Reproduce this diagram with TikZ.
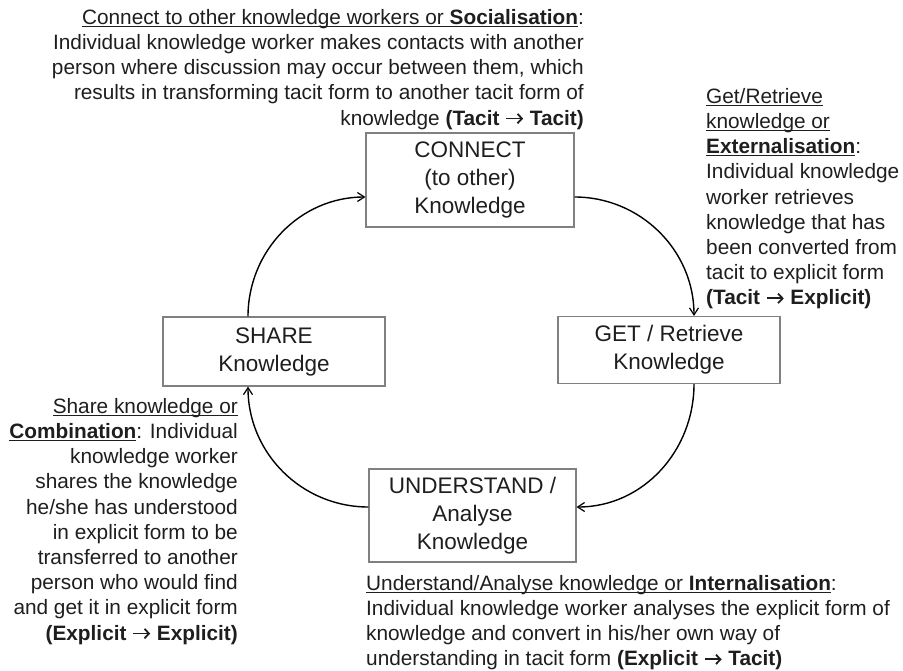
\documentclass[tikz,border=0pt]{standalone}
\usepackage{fontspec}
\setmainfont{Liberation Sans}
\usetikzlibrary{arrows.meta}
\definecolor{ink}{HTML}{1E1E1E}
\definecolor{frame}{HTML}{808080}
% underline at a fixed depth below the baseline
\newcommand{\und}[1]{\leavevmode\setbox0=\hbox{#1}\rlap{\color{ink}\rule[-2.6pt]{\wd0}{1pt}}\copy0}
% conversion arrow between the two forms of knowledge
\newcommand{\conv}{\tikz[baseline=-6.5pt]\draw[ink, line width=1.8pt,
  -{Straight Barb[length=4.5pt,width=9.5pt,line width=1.8pt]}] (0pt,0pt) -- (17pt,0pt);}
\tikzset{
  stage/.style={draw=frame, line width=1.1pt, align=center, inner sep=0pt,
    font=\fontsize{22.5}{28}\selectfont, text=ink},
  note/.style={inner sep=0pt, font=\fontsize{20.8}{25.2}\selectfont, text=ink},
  flow/.style={-{Straight Barb[length=7pt,width=9pt,line width=1.2pt]}, line width=1.4pt, black}
}
\begin{document}
\begin{tikzpicture}[x=1pt,y=-1pt]
\useasboundingbox (0,0) rectangle (903,670);

% the four stages of the cycle
\node[stage, minimum width=208pt, minimum height=94pt] (connect) at (470,180)
  {CONNECT\\(to other)\\Knowledge};
\node[stage, minimum width=222pt, minimum height=67pt] (get) at (669,350)
  {GET / Retrieve\\Knowledge};
\node[stage, minimum width=207pt, minimum height=93pt] (understand) at (472.5,515.5)
  {UNDERSTAND /\\Analyse\\Knowledge};
\node[stage, minimum width=222pt, minimum height=69pt] (share) at (274,351.5)
  {SHARE\\Knowledge};

% connectors round the cycle
\draw[flow] ([yshift=-17pt]connect.east) to[out=0,in=90] ([xshift=25pt]get.north);
\draw[flow] ([xshift=25pt]get.south) to[out=-90,in=0] ([yshift=8.5pt]understand.east);
\draw[flow] ([yshift=8.5pt]understand.west) to[out=180,in=-90] ([xshift=-26pt]share.south);
\draw[flow] ([xshift=-26pt]share.north) to[out=90,in=180] ([yshift=-17pt]connect.west);

% explanations of each conversion
\node[note, align=right, anchor=north east] (socialisation) at (584,9)
  {\und{Connect to other knowledge workers or \textbf{Socialisation}}:\\
   Individual knowledge worker makes contacts with another\\
   person where discussion may occur between them, which\\
   results in transforming tacit form to another tacit form of\\
   knowledge \textbf{(Tacit \conv{} Tacit)}};

\node[note, align=left, anchor=north west] (externalisation) at (706,88)
  {\und{Get/Retrieve}\\
   \und{knowledge or}\\
   \und{\textbf{Externalisation}}:\\
   Individual knowledge\\
   worker retrieves\\
   knowledge that has\\
   been converted from\\
   tacit to explicit form\\
   \textbf{(Tacit \conv{} Explicit)}};

\node[note, align=right, anchor=north east] (combination) at (238,398)
  {\und{Share knowledge or}\\
   \und{\textbf{Combination}}: Individual\\
   knowledge worker\\
   shares the knowledge\\
   he/she has understood\\
   in explicit form to be\\
   transferred to another\\
   person who would find\\
   and get it in explicit form\\
   \textbf{(Explicit \conv{} Explicit)}};

\node[note, align=left, anchor=north west] (internalisation) at (366,575)
  {\und{Understand/Analyse knowledge or \textbf{Internalisation}}:\\
   Individual knowledge worker analyses the explicit form of\\
   knowledge and convert in his/her own way of\\
   understanding in tacit form \textbf{(Explicit \conv{} Tacit)}};
\end{tikzpicture}
\end{document}
